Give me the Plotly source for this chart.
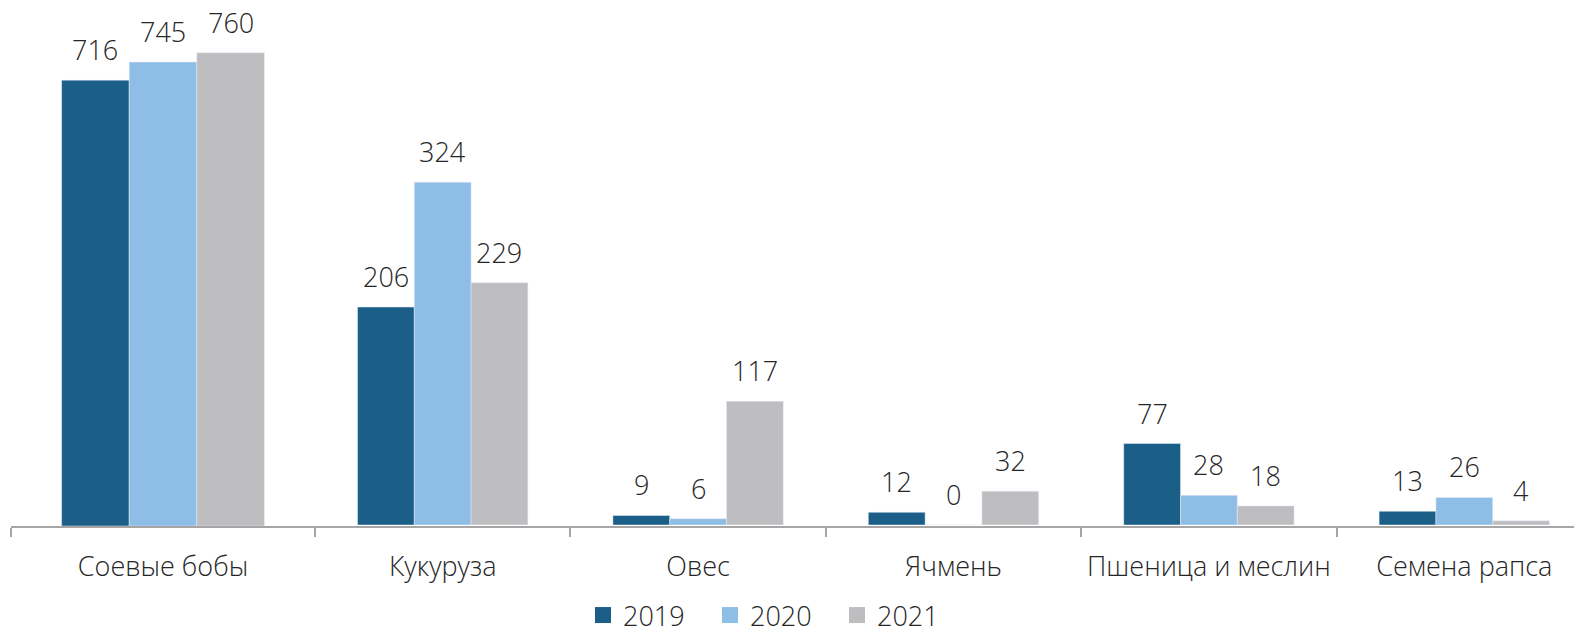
import plotly.graph_objects as go

categories = ["Соевые бобы", "Кукуруза", "Овес", "Ячмень", "Пшеница и меслин", "Семена рапса"]
years = ["2019", "2020", "2021"]
v2019 = [716, 206, 9, 12, 77, 13]
v2020 = [745, 324, 6, 0, 28, 26]
v2021 = [760, 229, 117, 32, 18, 4]
series = [v2019, v2020, v2021]
colors = ["#1b5e88", "#8ebde6", "#bebec0"]

W, H = 1574, 629
FONT = "Open Sans"
TXT = "#262626"
AX = "#a6a6a6"
bargap = 0.333
bw = (1 - bargap) / 3
fnt = dict(family=FONT, size=27, color=TXT, weight=300)

fig = go.Figure()

# Soybean block (own scale) and the remaining crops (own scale)
for k, (yr, vals, col) in enumerate(zip(years, series, colors)):
    fig.add_trace(go.Bar(x=categories[:1], y=vals[:1], marker_color=col, name=yr,
                         xaxis="x", yaxis="y", showlegend=False))
    fig.add_trace(go.Bar(x=categories[1:], y=vals[1:], marker_color=col, name=yr,
                         xaxis="x2", yaxis="y2", showlegend=False))
    fig.add_trace(go.Scatter(x=[None], y=[None], mode="markers", name=yr,
                             marker=dict(symbol="square", size=16, color=col),
                             xaxis="x2", yaxis="y2", showlegend=True))

annotations = []
for k, vals in enumerate(series):
    off = (k - 1) * bw
    annotations.append(dict(x=0 + off, y=vals[0], xref="x", yref="y", text=str(vals[0]),
                            showarrow=False, yanchor="bottom", yshift=10, font=fnt))
    for i, v in enumerate(vals[1:]):
        annotations.append(dict(x=i + off, y=v, xref="x2", yref="y2", text=str(v),
                                showarrow=False, yanchor="bottom", yshift=10, font=fnt))

axis_common = dict(type="category", tickson="boundaries", ticks="outside", ticklen=9,
                   tickcolor=AX, tickwidth=1.5, showline=True, linecolor=AX, linewidth=1.5,
                   showgrid=False, zeroline=False, ticklabelstandoff=16, tickangle=0,
                   automargin=False, tickfont=fnt)

fig.update_layout(
    width=W, height=H,
    margin=dict(l=0, r=0, t=0, b=103, autoexpand=False),
    paper_bgcolor="white", plot_bgcolor="white",
    barmode="group", bargap=bargap, bargroupgap=0,
    font=fnt,
    xaxis=dict(domain=[11 / W, 315 / W], range=[-0.5, 0.5],
               categoryorder="array", categoryarray=categories[:1], **axis_common),
    yaxis=dict(domain=[0, 1], range=[0, 844.7], visible=False, fixedrange=True),
    xaxis2=dict(domain=[315 / W, 1], range=[-0.5, -0.5 + (W - 315) / 255.4],
                categoryorder="array", categoryarray=categories[1:], **axis_common),
    yaxis2=dict(domain=[1 / 526, 1], range=[0, 496.2], visible=False, fixedrange=True,
                anchor="x2"),
    annotations=annotations,
    showlegend=True,
    legend=dict(orientation="h", xref="container", yref="container",
                x=583 / W, xanchor="left", y=(629 - 591) / 629, yanchor="top",
                entrywidth=82, entrywidthmode="pixels", font=fnt,
                bgcolor="rgba(0,0,0,0)", borderwidth=0),
)

fig.write_html("out.html", config={"displayModeBar": False},
               post_script="document.body.style.margin='0';document.body.style.overflow='hidden';")
